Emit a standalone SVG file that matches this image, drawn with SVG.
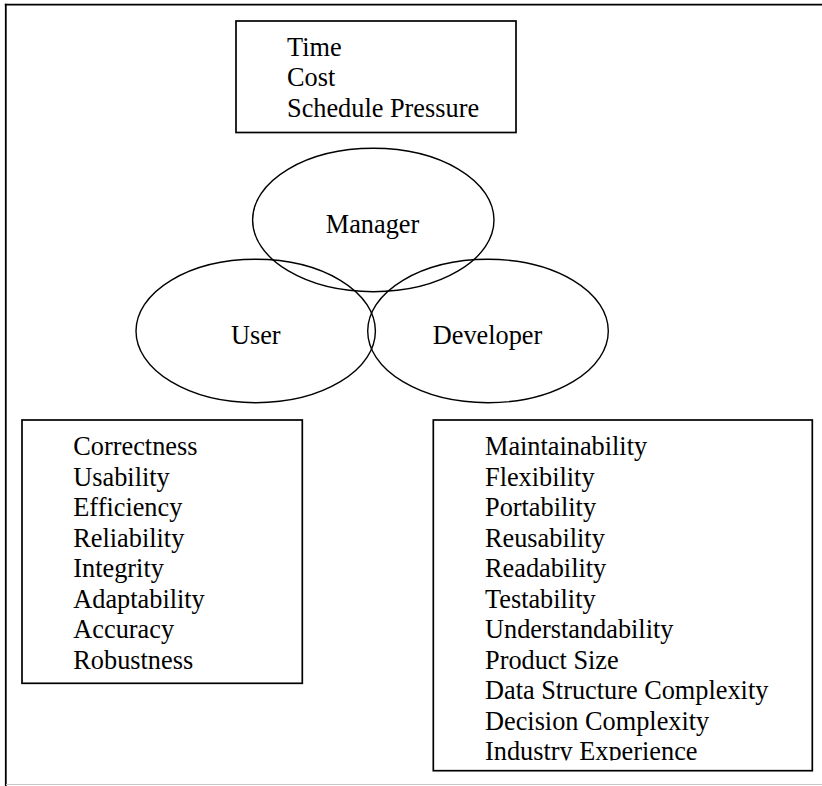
<svg xmlns="http://www.w3.org/2000/svg" width="822" height="786" viewBox="0 0 822 786">
<style>
text{font-family:"Liberation Serif","Times New Roman",serif;font-size:26.3px;fill:#000}
.box{fill:none;stroke:#000;stroke-width:1.7}
.ell{fill:none;stroke:#000;stroke-width:1.4}
.mid{text-anchor:middle}
</style>
<defs>
<clipPath id="clipR"><rect x="434" y="420" width="378" height="340.5"/></clipPath>
</defs>
<rect x="0" y="0" width="822" height="786" fill="#fff"/>
<g id="frame">
<line x1="4.8" y1="4.6" x2="822" y2="4.6" stroke="#000" stroke-width="1.8"/>
<line x1="5.8" y1="3.7" x2="5.8" y2="786" stroke="#000" stroke-width="1.8"/>
<line x1="6" y1="784.5" x2="822" y2="784.5" stroke="#c8c8c8" stroke-width="1"/>
</g>
<g id="connectors"/>
<g id="manager-box">
<rect class="box" x="236" y="21" width="280" height="111.5"/>
<text x="287" y="55.5">Time</text>
<text x="287" y="86">Cost</text>
<text x="287" y="116.5">Schedule Pressure</text>
</g>
<g id="manager">
<ellipse class="ell" cx="373.3" cy="220" rx="120.7" ry="71.7"/>
<text class="mid" x="372.5" y="233">Manager</text>
</g>
<g id="user">
<ellipse class="ell" cx="255.7" cy="331" rx="119.7" ry="71.7"/>
<text class="mid" x="255.8" y="344">User</text>
</g>
<g id="developer">
<ellipse class="ell" cx="488" cy="331" rx="120.3" ry="71.7"/>
<text class="mid" x="487.5" y="344">Developer</text>
</g>
<g id="user-box">
<rect class="box" x="22" y="420" width="280.3" height="263.3"/>
<text x="73.3" y="455">Correctness</text>
<text x="73.3" y="485.5">Usability</text>
<text x="73.3" y="516">Efficiency</text>
<text x="73.3" y="546.5">Reliability</text>
<text x="73.3" y="577">Integrity</text>
<text x="73.3" y="607.5">Adaptability</text>
<text x="73.3" y="638">Accuracy</text>
<text x="73.3" y="668.5">Robustness</text>
</g>
<g id="developer-box">
<rect class="box" x="433.3" y="420" width="379" height="350.7"/>
<g clip-path="url(#clipR)">
<text x="485" y="455">Maintainability</text>
<text x="485" y="485.5">Flexibility</text>
<text x="485" y="516">Portability</text>
<text x="485" y="546.5">Reusability</text>
<text x="485" y="577">Readability</text>
<text x="485" y="607.5">Testability</text>
<text x="485" y="638">Understandability</text>
<text x="485" y="668.5">Product Size</text>
<text x="485" y="699">Data Structure Complexity</text>
<text x="485" y="729.5">Decision Complexity</text>
<text x="485" y="760">Industry Experience</text>
</g>
</g>
</svg>
